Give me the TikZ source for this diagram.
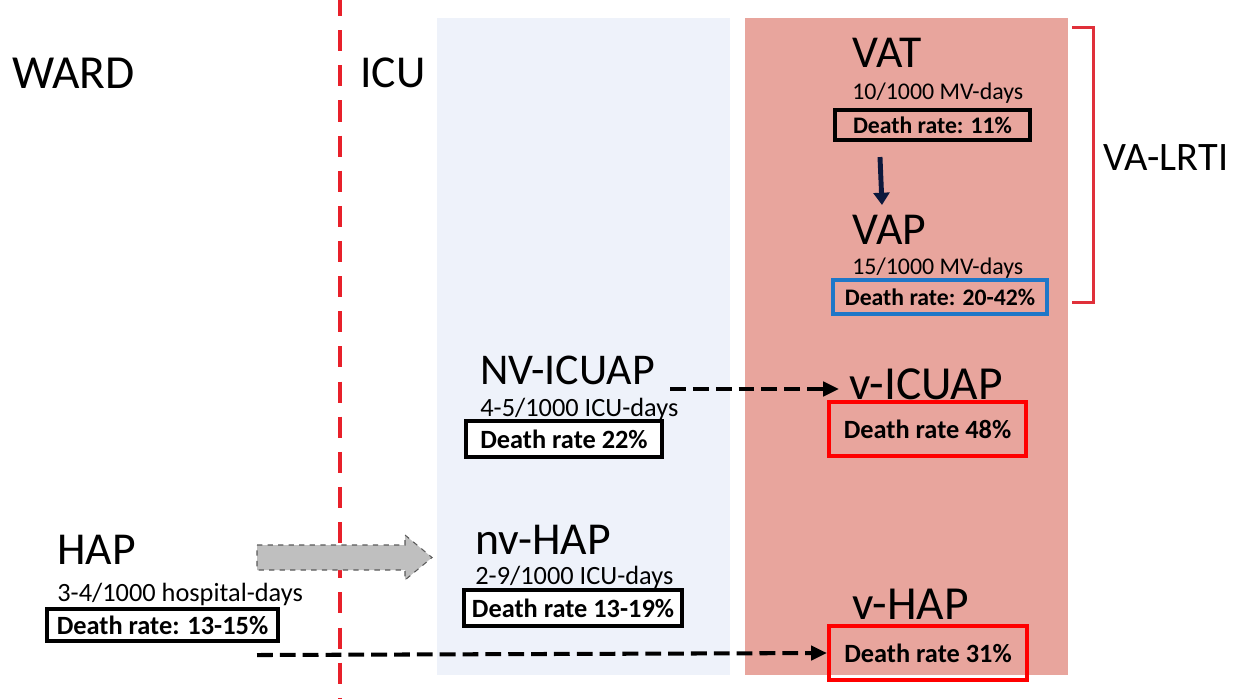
\documentclass[tikz,border=0pt]{standalone}
\usepackage{fontspec}
\setmainfont{Carlito}
\usetikzlibrary{arrows.meta}

\definecolor{icublue}{RGB}{238,242,250}
\definecolor{ventred}{RGB}{232,165,157}
\definecolor{lineRed}{RGB}{232,32,42}
\definecolor{brRed}{RGB}{224,48,58}
\definecolor{boxBlue}{RGB}{31,119,200}
\definecolor{navy}{RGB}{12,24,60}

\tikzset{
  title/.style={anchor=west,inner sep=0pt,font=\fontsize{26}{28}\selectfont},
  incid/.style={anchor=west,inner sep=0pt,font=\fontsize{13.6}{15}\selectfont},
  ratebox/.style={draw=black,line width=2.3pt,inner sep=0pt,font=\bfseries\fontsize{15}{17}\selectfont},
  dasharrow/.style={line width=2.3pt,dash pattern=on 9pt off 4pt,-{Triangle[length=9pt,width=8pt]}}
}

\begin{document}
\begin{tikzpicture}[x=0.02cm,y=-0.02cm]
\useasboundingbox (0,0) rectangle (1240,698);

\fill[icublue] (437,18) rectangle (730,675);
\fill[ventred] (745,18) rectangle (1068,675);
\draw[lineRed,line width=2.3pt,dash pattern=on 12pt off 8pt] (340,-5) -- (340,698);

\path (12,73) node[title,font=\fontsize{27}{29}\selectfont](ward){WARD} ;
\path (360,73) node[title](icu){ICU} ;

\path (852,53) node[title](vat){VAT} ;
\path (852,93) node[incid](vatinc){10/1000 MV-days} ;
\path (932.5,125) node[ratebox,font=\bfseries\fontsize{13.5}{15}\selectfont,minimum width=3.9cm,minimum height=0.6cm](vatrate){Death rate: 11\%} ;

\path (852,230) node[title](vap){VAP} ;
\path (852,268) node[incid](vapinc){15/1000 MV-days} ;
\path (940,297) node[ratebox,draw=boxBlue,font=\bfseries\fontsize{13.5}{15}\selectfont,minimum width=4.28cm,minimum height=0.68cm](vaprate){Death rate: 20-42\%} ;

\draw[navy,line width=2.8pt,-{Triangle[length=7pt,width=9pt]}] ([xshift=0.94cm,yshift=-0.3cm]vatrate.south west) -- ([xshift=0.6cm,yshift=0.2cm]vap.north west);

\draw[brRed,line width=1.7pt] (1072,27) -- (1093,27) -- (1093,302) -- (1072,302);
\path (1103,158) node[title,font=\fontsize{23}{25}\selectfont](valrti){VA-LRTI} ;

\path (480,370) node[title,font=\fontsize{25}{27}\selectfont](nvicuap){NV-ICUAP} ;
\path (480,409) node[incid,font=\fontsize{15}{17}\selectfont](nvicuapinc){4-5/1000 ICU-days} ;
\path (564,439) node[ratebox,fill=white,minimum width=3.92cm,minimum height=0.72cm](nvicuaprate){Death rate 22\%} ;

\path (849,384) node[title,font=\fontsize{27}{29}\selectfont](vicuap){v-ICUAP} ;
\path (927.5,429) node[ratebox,draw=red,minimum width=3.94cm,minimum height=1.08cm](vicuaprate){Death rate 48\%} ;

\draw[dasharrow] ([xshift=0.3cm,yshift=-0.38cm]nvicuap.east) -- ([xshift=-0.2cm,yshift=-0.38cm]nvicuap.east -| vicuap.west);

\path (57,550) node[title](hap){HAP} ;
\path (57,594) node[incid,font=\fontsize{15}{17}\selectfont](hapinc){3-4/1000 hospital-days} ;
\path (162.5,625) node[ratebox,fill=white,minimum width=4.62cm,minimum height=0.64cm](haprate){Death rate: 13-15\%} ;

\path (475,540) node[title](nvhap){nv-HAP} ;
\path (475,577) node[incid,font=\fontsize{15}{17}\selectfont](nvhapinc){2-9/1000 ICU-days} ;
\path (573,608) node[ratebox,fill=white,minimum width=4.36cm,minimum height=0.72cm](nvhaprate){Death rate 13-19\%} ;

\path (852,604) node[title,font=\fontsize{27}{29}\selectfont](vhap){v-HAP} ;
\path (928,653) node[ratebox,draw=red,minimum width=3.96cm,minimum height=1.08cm](vhaprate){Death rate 31\%} ;

\filldraw[fill=gray!50,draw=gray!70!black,dashed,line width=0.6pt] (257,545) -- (405,545) -- (405,535) -- (432,557.5) -- (405,580) -- (405,570) -- (257,570) -- cycle;

\draw[dasharrow] ([xshift=-0.46cm,yshift=-0.24cm]haprate.south east) -- (vhaprate.west);

\end{tikzpicture}
\end{document}
